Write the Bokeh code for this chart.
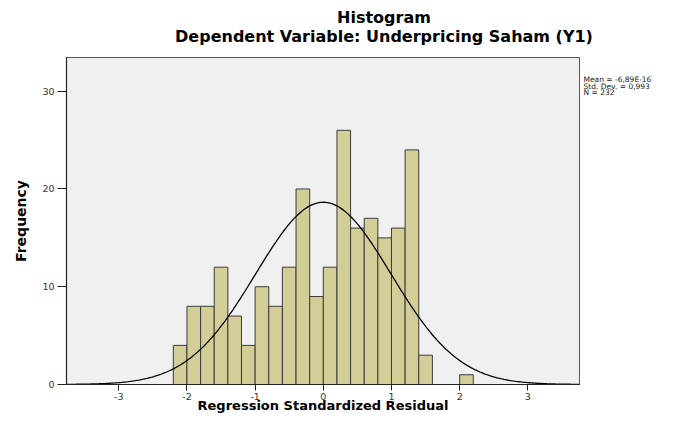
import numpy as np
from bokeh.plotting import figure
from bokeh.models import Range1d, FixedTicker, ColumnDataSource, LinearAxis
from bokeh.embed import file_html
from bokeh.resources import INLINE

# ---- data ----
bin_lefts = [-2.2, -2.0, -1.8, -1.6, -1.4, -1.2, -1.0, -0.8, -0.6, -0.4, -0.2,
             0.0, 0.2, 0.4, 0.6, 0.8, 1.0, 1.2, 1.4, 1.6, 1.8, 2.0]
counts = [4, 8, 8, 12, 7, 4, 10, 8, 12, 20, 9,
          12, 26, 16, 17, 15, 16, 24, 3, 0, 0, 1]
bin_width = 0.2
mean_val = -6.89e-16
std_dev = 0.993
n_obs = 232
x_ticks = [-3, -2, -1, 0, 1, 2, 3]
y_ticks = [0, 10, 20, 30]
stats_lines = ["Mean = -6,89E-16", "Std. Dev. = 0,993", "N = 232"]
title_text = "Histogram"
subtitle_text = "Dependent Variable: Underpricing Saham (Y1)"
x_label = "Regression Standardized Residual"
y_label = "Frequency"

x_lo, x_hi = -3.767, 3.758
y_lo, y_hi = 0, 33.45

bars = ColumnDataSource(dict(
    left=[l for l, c in zip(bin_lefts, counts) if c > 0],
    right=[l + bin_width for l, c in zip(bin_lefts, counts) if c > 0],
    top=[c for c in counts if c > 0],
))

# normal curve implied by the stated mean / std. dev. / N
xs = np.linspace(x_lo, x_hi, 300)
ys = n_obs * bin_width / (std_dev * np.sqrt(2 * np.pi)) * np.exp(-0.5 * ((xs - mean_val) / std_dev) ** 2)

W, H = 686, 415
p = figure(width=W, height=H, output_backend="svg", toolbar_location=None,
           x_range=Range1d(x_lo, x_hi), y_range=Range1d(y_lo, y_hi),
           min_border_left=66, min_border_right=W - 579, min_border_top=57, min_border_bottom=H - 384)
p.background_fill_color = "#f0f0f0"
p.border_fill_color = "white"
p.outline_line_color = "#555555"
p.outline_line_width = 1
p.grid.visible = False

p.quad(left="left", right="right", bottom=0, top="top", source=bars,
       fill_color="#d3ce97", line_color="#3c3c3c", line_width=1)
p.line(xs, ys, line_color="black", line_width=1.3)

for ax, ticks, tout in ((p.xaxis, x_ticks, 6), (p.yaxis, y_ticks, 9)):
    ax.ticker = FixedTicker(ticks=ticks)
    ax.major_label_overrides = {t: str(t) for t in ticks}
    ax.minor_tick_line_color = None
    ax.major_tick_in = 0
    ax.major_tick_out = tout
    ax.major_tick_line_color = "#222222"
    ax.axis_line_color = "#222222"
    ax.axis_line_width = 1.2
    ax.major_label_text_font = "DejaVu Sans"
    ax.major_label_text_font_size = "9.5px"
    ax.major_label_text_color = "#333333"
    ax.axis_label_text_font = "DejaVu Sans"
    ax.axis_label_text_font_style = "bold"
    ax.axis_label_text_color = "black"

p.xaxis.major_label_standoff = 2
p.xaxis.axis_label = x_label
p.xaxis.axis_label_text_font_size = "13px"
p.xaxis.axis_label_standoff = -5
p.yaxis.major_label_standoff = 3
p.yaxis.axis_label = y_label
p.yaxis.axis_label_text_font_size = "14px"
p.yaxis.axis_label_standoff = 10


def text_axis(side, pos, text, size, standoff, bold, color="black"):
    """An axis used only to place text outside the plot frame."""
    ax = LinearAxis(ticker=FixedTicker(ticks=[pos]),
                    major_label_overrides={pos: text},
                    axis_line_color=None, major_tick_line_color=None,
                    minor_tick_line_color=None, major_tick_in=0, major_tick_out=0,
                    major_label_standoff=standoff,
                    major_label_text_font="DejaVu Sans",
                    major_label_text_font_style="bold" if bold else "normal",
                    major_label_text_font_size=size,
                    major_label_text_color=color)
    p.add_layout(ax, side)
    return ax


# titles: centred on the chart, above the frame
title_x = 0.89
text_axis("above", title_x, subtitle_text, "16px", 12, True)
text_axis("above", title_x, title_text, "16px", -3, True)

# statistics box to the right of the frame (three lines)
stats_y = [31.2, 30.53, 29.86]
stats_axis = LinearAxis(ticker=FixedTicker(ticks=stats_y),
                        major_label_overrides=dict(zip(stats_y, stats_lines)),
                        axis_line_color=None, major_tick_line_color=None,
                        minor_tick_line_color=None, major_tick_in=0, major_tick_out=0,
                        major_label_standoff=4,
                        major_label_text_font="DejaVu Sans",
                        major_label_text_font_size="7.5px",
                        major_label_text_color="#222222")
p.add_layout(stats_axis, "right")

open("out.html", "w").write(file_html(p, INLINE))
